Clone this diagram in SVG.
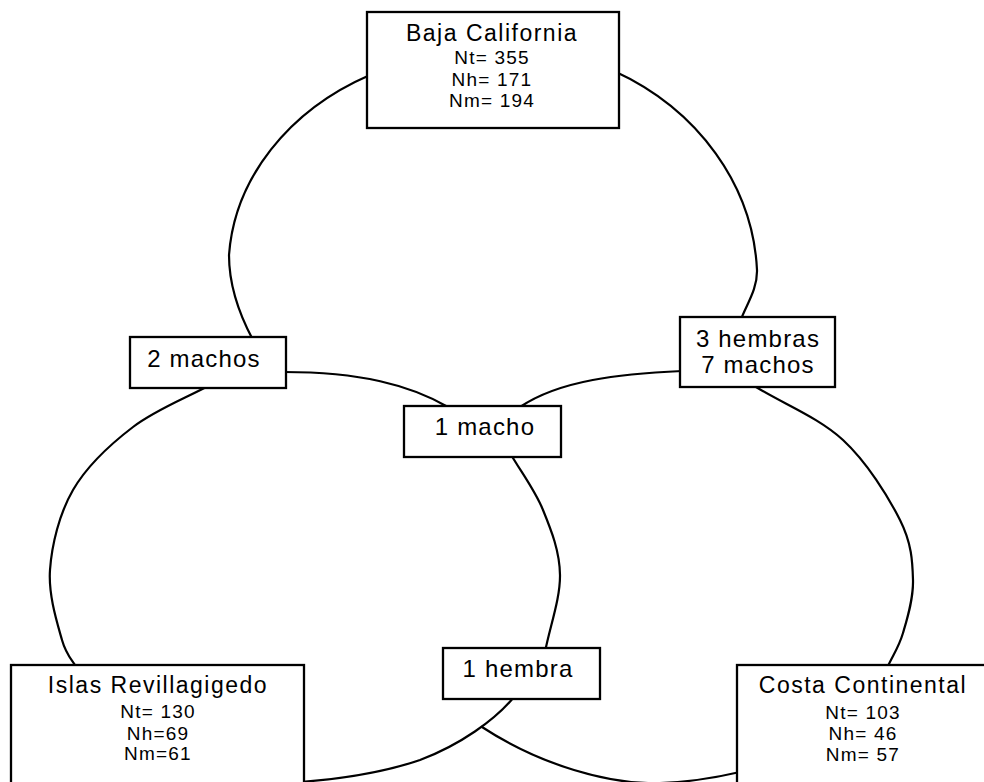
<svg xmlns="http://www.w3.org/2000/svg" width="984" height="782" viewBox="0 0 984 782">
<style>
.c{fill:none;stroke:#000;stroke-width:2.2;stroke-linecap:round;stroke-linejoin:round}
.b{fill:#fff;stroke:#000;stroke-width:2.3}
text{font-family:"Liberation Sans",Arial,sans-serif;fill:#000;text-anchor:middle}
.t{font-size:23px;letter-spacing:1.5px}
.n{font-size:19px;letter-spacing:1.2px}
.l{font-size:24px;letter-spacing:1.2px}
</style>
<rect x="0" y="0" width="984" height="782" fill="#fff"/>
<g id="connectors">
<path class="c" d="M253,340 C238,312 229,285 229,255 A263.5 218 0 0 1 370,75"/>
<path class="c" d="M614,71 A264 235 0 0 1 757,270 C757.5,290 746,305 740,322"/>
<path class="c" d="M682,371 C620,374 560,380 520,407"/>
<path class="c" d="M448,407 C410,385 360,372 284,372"/>
<path class="c" d="M212,384 C185.7,398.3 156.2,409.3 133,427 C109.8,444.7 86.8,466.2 73,490 C59.2,513.8 51.8,545 50,570 C48.2,595 57.3,623.3 62,640 C66.7,656.7 72.7,660 78,670"/>
<path class="c" d="M510,453 C521,472 534.7,489.7 543,510 C551.3,530.3 559.7,551.3 560,575 C560.3,598.7 550,626.3 545,652"/>
<path class="c" d="M514,697 C495,720 460,745 420,760 C385,772 340,779 300,782"/>
<path class="c" d="M482,727 C540,765 610,785 660,783 C690,782 715,778 740,772"/>
<path class="c" d="M756,387 C785,404.7 819,417.8 843,440 C867,462.2 888.3,496.7 900,520 C911.7,543.3 912.5,561.2 913,580 C913.5,598.8 907.2,618.7 903,633 C898.8,647.3 893,655 888,666"/>
</g>
<g id="baja-california">
<rect class="b" x="367" y="12" width="252" height="116"/>
<text class="t" x="492" y="41">Baja California</text>
<text class="n" x="492" y="64">Nt= 355</text>
<text class="n" x="492" y="86">Nh= 171</text>
<text class="n" x="492" y="107">Nm= 194</text>
</g>
<g id="islas-revillagigedo">
<rect class="b" x="11" y="665" width="293" height="130"/>
<text class="t" x="158" y="693">Islas Revillagigedo</text>
<text class="n" x="158" y="718">Nt= 130</text>
<text class="n" x="158" y="740">Nh=69</text>
<text class="n" x="158" y="760">Nm=61</text>
</g>
<g id="costa-continental">
<rect class="b" x="737" y="665" width="260" height="130"/>
<text class="t" x="863" y="693">Costa Continental</text>
<text class="n" x="863" y="719">Nt= 103</text>
<text class="n" x="863" y="740">Nh= 46</text>
<text class="n" x="863" y="761">Nm= 57</text>
</g>
<g id="label-2-machos">
<rect class="b" x="130" y="337" width="156" height="51"/>
<text class="l" x="204" y="367">2 machos</text>
</g>
<g id="label-1-macho">
<rect class="b" x="404" y="406" width="157" height="51"/>
<text class="l" x="485" y="435">1 macho</text>
</g>
<g id="label-3-hembras-7-machos">
<rect class="b" x="680" y="317" width="155" height="70"/>
<text class="l" x="758" y="347">3 hembras</text>
<text class="l" x="758" y="373">7 machos</text>
</g>
<g id="label-1-hembra">
<rect class="b" x="443" y="648" width="157" height="51"/>
<text class="l" x="518" y="677">1 hembra</text>
</g>
</svg>
